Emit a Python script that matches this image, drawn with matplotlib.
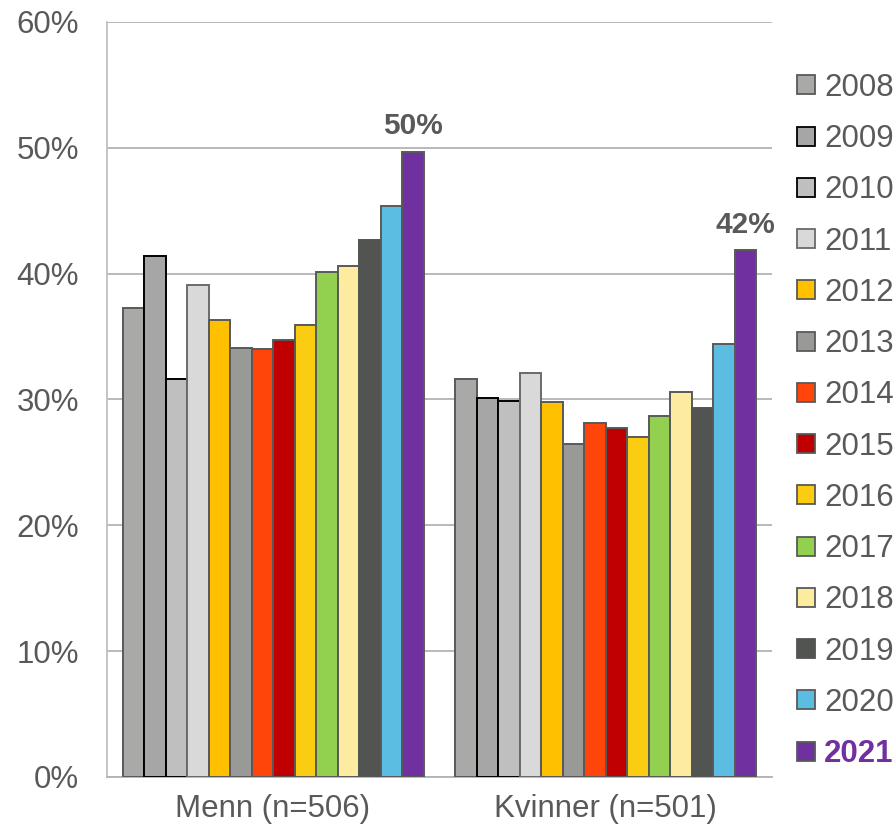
import numpy as np
import matplotlib.pyplot as plt
from matplotlib.patches import Patch

plt.rcParams['font.family'] = ['Liberation Sans', 'DejaVu Sans']

# data
groups = ['Menn (n=506)', 'Kvinner (n=501)']
years = ['2008', '2009', '2010', '2011', '2012', '2013', '2014',
         '2015', '2016', '2017', '2018', '2019', '2020', '2021']
menn = [37.3, 41.4, 31.6, 39.1, 36.3, 34.1, 34.0,
        34.7, 35.9, 40.1, 40.6, 42.7, 45.4, 49.7]
kvinner = [31.6, 30.1, 29.9, 32.1, 29.8, 26.5, 28.1,
           27.7, 27.0, 28.7, 30.6, 29.3, 34.4, 41.9]
labels_2021 = ['50%', '42%']

colors = ['#A9AAA8', '#A6A6A6', '#BFBFBF', '#D9D9D9', '#FFC000', '#999A97', '#FF450A',
          '#C00000', '#FACD12', '#92D050', '#FDEBA0', '#525451', '#5BBDE1', '#7030A0']
edges = ['#595959', '#000000', '#000000', '#6A6A6A', '#595959', '#595959', '#595959',
         '#595959', '#595959', '#595959', '#595959', '#525451', '#595959', '#595959']

txt = '#595959'

fig = plt.figure(figsize=(8.96, 8.35), dpi=100)
ax = fig.add_axes([0.119, 0.0695, 0.743, 0.9042])

n = len(years)
width = 0.904 / n
x = np.arange(len(groups))
values = np.array([menn, kvinner])

for i in range(n):
    pos = x - 0.452 + width * (i + 0.5)
    ax.bar(pos, values[:, i], width, color=colors[i], edgecolor=edges[i],
           linewidth=1.4, zorder=3, label=years[i])

# labels on 2021
pos21 = x - 0.452 + width * (n - 0.5)
for j in range(len(groups)):
    ax.annotate(labels_2021[j], (pos21[j], values[j, -1]), xytext=(0, 8),
                textcoords='offset points', ha='center', va='bottom',
                fontsize=21.5, fontweight='bold', color=txt)

ax.set_xlim(-0.5, 1.5)
ax.set_ylim(0, 60)
ax.set_yticks(range(0, 61, 10))
ax.set_yticklabels([f'{v}%' for v in range(0, 61, 10)])
ax.set_xticks(x)
ax.set_xticklabels(groups)
ax.tick_params(axis='both', length=0, labelsize=22.5, labelcolor=txt)
ax.tick_params(axis='y', pad=20)
ax.tick_params(axis='x', pad=12)
ax.yaxis.grid(True, color='#B3B3B3', linewidth=1.3, zorder=0)
for s in ['top', 'right']:
    ax.spines[s].set_visible(False)
ax.spines['left'].set_color('#BFBFBF')
ax.spines['left'].set_linewidth(1.3)
ax.spines['bottom'].set_color('#B3B3B3')
ax.spines['bottom'].set_linewidth(1.3)

handles = [Patch(facecolor=colors[i], edgecolor=edges[i], linewidth=1.3) for i in range(n)]
leg = fig.legend(handles, years, loc='upper left', bbox_to_anchor=(0.876, 0.9276),
                 frameon=False, fontsize=22.5, handlelength=0.55, handleheight=0.55,
                 handletextpad=0.3, labelspacing=0.68, borderaxespad=0)
for t in leg.get_texts():
    t.set_color(txt)
leg.get_texts()[-1].set_color('#7030A0')
leg.get_texts()[-1].set_fontweight('bold')

fig.savefig('out.png', dpi=100)
